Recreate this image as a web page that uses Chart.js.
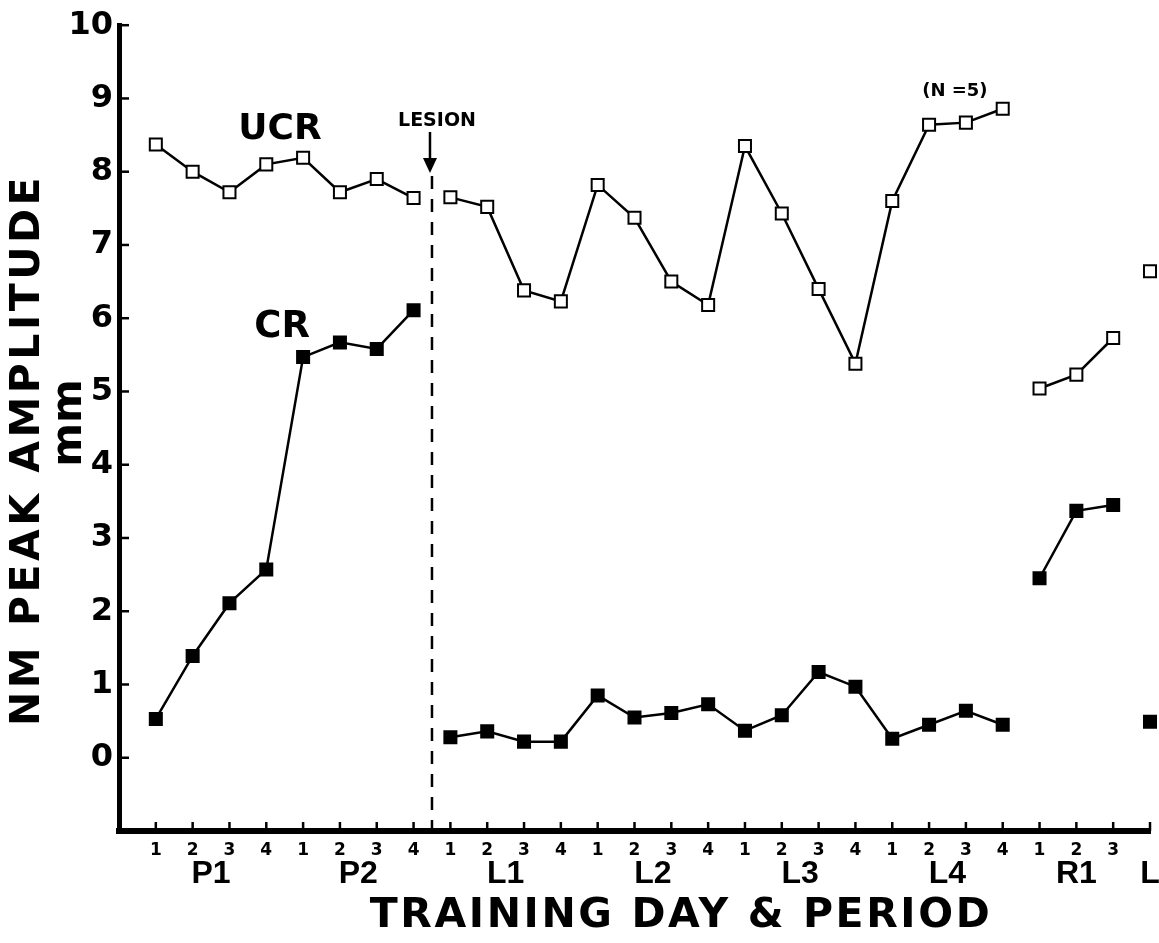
<!DOCTYPE html>
<html>
<head>
<meta charset="utf-8">
<script src="https://cdn.jsdelivr.net/npm/chart.js@4"></script>
<style>
  html, body { margin: 0; padding: 0; background: #fff; }
  #wrap { width: 1159px; height: 943px; }
</style>
</head>
<body>
<div id="wrap"><canvas id="chart" width="1159" height="943"></canvas></div>
<script>
// -----------------------------
// Data
// -----------------------------
const dayLabels = ['1','2','3','4','1','2','3','4','1','2','3','4','1','2','3','4',
                   '1','2','3','4','1','2','3','4','1','2','3',''];
const ucr = [8.37, 8.00, 7.72, 8.10, 8.19, 7.72, 7.90, 7.64,
             7.65, 7.52, 6.38, 6.23, 7.82, 7.37, 6.50, 6.18,
             8.35, 7.43, 6.40, 5.38, 7.60, 8.64, 8.67, 8.86,
             5.04, 5.23, 5.73, 6.64];
const cr  = [0.53, 1.39, 2.11, 2.57, 5.47, 5.67, 5.58, 6.11,
             0.28, 0.36, 0.22, 0.22, 0.85, 0.55, 0.61, 0.73,
             0.37, 0.58, 1.17, 0.97, 0.26, 0.45, 0.64, 0.45,
             2.45, 3.37, 3.45, 0.49];
const periods = ['P1', 'P2', 'L1', 'L2', 'L3', 'L4', 'R1', 'L'];
const periodDays = [4, 4, 4, 4, 4, 4, 3, 1];
// stretches of sessions that are joined by a line
const runs = [[0, 7], [8, 23], [24, 26], [27, 27]];
const lesionAfter = 7.5;
const yTicks = [0, 1, 2, 3, 4, 5, 6, 7, 8, 9, 10];

const BOLD = 'bold ';
const DV = '"DejaVu Sans", sans-serif';
const LB = '"Liberation Sans", Arial, sans-serif';

// -----------------------------
// Datasets, one per joined stretch
// -----------------------------
function segment(values, from, to, filled) {
  const pts = [];
  for (let i = from; i <= to; i++) pts.push({x: i, y: values[i]});
  return {
    data: pts,
    showLine: true,
    borderColor: '#000',
    borderWidth: 2.5,
    pointStyle: 'rect',
    pointRadius: 8.5,
    pointBorderWidth: 2,
    pointBorderColor: '#000',
    pointBackgroundColor: filled ? '#000' : '#fff',
    backgroundColor: filled ? '#000' : '#fff',
    clip: false
  };
}
const datasets = [];
runs.forEach(([a, b]) => {
  datasets.push(segment(ucr, a, b, false));
  datasets.push(segment(cr, a, b, true));
});

// -----------------------------
// Annotations: inward ticks, lesion marker, titles
// -----------------------------
function line(ctx, x1, y1, x2, y2) {
  ctx.beginPath(); ctx.moveTo(x1, y1); ctx.lineTo(x2, y2); ctx.stroke();
}
function text(ctx, s, x, y, font, spacing) {
  ctx.font = font;
  ctx.letterSpacing = spacing || '0px';
  ctx.textAlign = 'center';
  ctx.textBaseline = 'middle';
  ctx.fillText(s, x, y);
}

const decor = {
  id: 'decor',
  afterDraw(chart) {
    const {ctx, chartArea: a, scales: {x, y}} = chart;
    ctx.save();
    ctx.strokeStyle = '#000';
    ctx.fillStyle = '#000';
    ctx.lineWidth = 2.5;

    yTicks.forEach(v => {
      const py = y.getPixelForValue(v);
      line(ctx, a.left, py, a.left + 10, py);
    });
    dayLabels.forEach((_, i) => {
      const px = x.getPixelForValue(i);
      line(ctx, px, a.bottom, px, a.bottom - 9);
    });

    // lesion line + arrow
    const lx = x.getPixelForValue(lesionAfter);
    ctx.setLineDash([13, 10]);
    line(ctx, lx, 176, lx, a.bottom);
    ctx.setLineDash([]);
    line(ctx, lx - 2, 132, lx - 2, 162);
    ctx.beginPath();
    ctx.moveTo(lx - 9, 158); ctx.lineTo(lx + 5, 158); ctx.lineTo(lx - 2, 173);
    ctx.closePath(); ctx.fill();
    text(ctx, 'LESION', lx + 5, 121, BOLD + '19px ' + DV);

    text(ctx, 'UCR', x.getPixelForValue(3.37), y.getPixelForValue(8.57), BOLD + '36px ' + DV);
    text(ctx, 'CR', x.getPixelForValue(3.43), y.getPixelForValue(5.88), BOLD + '37px ' + DV);
    text(ctx, '(N =5)', x.getPixelForValue(21.7), y.getPixelForValue(9.1), BOLD + '18px ' + DV);

    // period labels under the day numbers
    let start = 0;
    periods.forEach((p, k) => {
      const c = start + (periodDays[k] - 1) / 2;
      text(ctx, p, x.getPixelForValue(c), 874, BOLD + '32px ' + LB);
      start += periodDays[k];
    });

    text(ctx, 'TRAINING DAY & PERIOD', 681, 916, BOLD + '41px ' + DV, '2.6px');

    ctx.save();
    ctx.translate(28, 450);
    ctx.rotate(-Math.PI / 2);
    text(ctx, 'NM PEAK AMPLITUDE', 0, 0, BOLD + '41px ' + DV, '3.5px');
    ctx.restore();
    ctx.save();
    ctx.translate(70, 423);
    ctx.rotate(-Math.PI / 2);
    text(ctx, 'mm', 0, 0, BOLD + '42px ' + DV);
    ctx.restore();

    ctx.restore();
  }
};

// -----------------------------
// Chart
// -----------------------------
new Chart(document.getElementById('chart'), {
  type: 'scatter',
  data: {datasets},
  options: {
    responsive: false,
    animation: false,
    layout: {autoPadding: false, padding: {top: 25, right: 9, left: 0, bottom: 0}},
    plugins: {legend: {display: false}, tooltip: {enabled: false}},
    scales: {
      x: {
        type: 'linear',
        min: -1,
        max: 27,
        afterFit: s => { s.height = 112; },
        afterBuildTicks: s => { s.ticks = dayLabels.map((_, i) => ({value: i})); },
        ticks: {
          autoSkip: false,
          maxRotation: 0,
          padding: 9,
          color: '#000',
          font: {family: 'DejaVu Sans', weight: 'bold', size: 17},
          callback: v => dayLabels[v] ?? ''
        },
        grid: {drawOnChartArea: false, drawTicks: false},
        border: {display: true, width: 6, color: '#000'}
      },
      y: {
        min: -1,
        max: 10,
        afterFit: s => { s.width = 119; },
        afterBuildTicks: s => { s.ticks = yTicks.map(v => ({value: v})); },
        ticks: {
          padding: 6,
          color: '#000',
          font: {family: 'DejaVu Sans', weight: 'bold', size: 32}
        },
        grid: {drawOnChartArea: false, drawTicks: false},
        border: {display: true, width: 5, color: '#000'}
      }
    }
  },
  plugins: [decor]
});
</script>
</body>
</html>
